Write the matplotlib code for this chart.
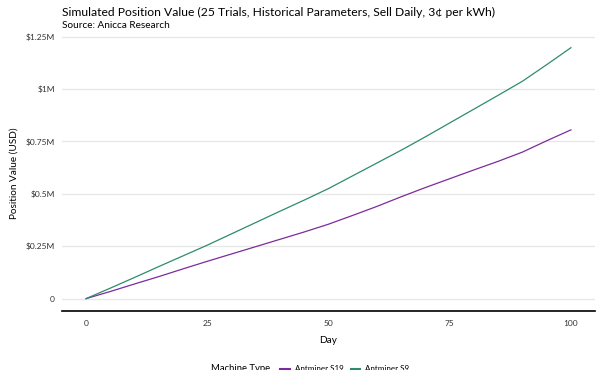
import matplotlib
matplotlib.use("Agg")
import matplotlib.pyplot as plt
from matplotlib.ticker import FuncFormatter

plt.rcParams["font.family"] = ["Lato", "DejaVu Sans"]

# Valores (milhoes de USD)
dias = [0, 5, 10, 15, 20, 25, 30, 35, 40, 45, 50, 55, 60, 65, 70, 75, 80, 85, 90, 95, 100]
s19 = [0, 0.034, 0.070, 0.105, 0.142, 0.178, 0.213, 0.248, 0.283, 0.318, 0.355,
       0.397, 0.440, 0.486, 0.530, 0.572, 0.614, 0.655, 0.699, 0.753, 0.805]
s9 = [0, 0.050, 0.101, 0.153, 0.204, 0.255, 0.309, 0.363, 0.417, 0.470, 0.525,
      0.586, 0.647, 0.708, 0.772, 0.838, 0.904, 0.970, 1.037, 1.116, 1.197]

yticks = [0, 0.25, 0.5, 0.75, 1.0, 1.25]
xticks = [0, 25, 50, 75, 100]


def fmt_dolar(v, pos):
    if v == 0:
        return "0"
    return "$" + ("%g" % v) + "M"


fig = plt.figure(figsize=(6, 3.7), dpi=100)
ax = fig.add_axes([0.103, 0.159, 0.889, 0.746])

l1, = ax.plot(dias, s19, color="#7d2b9c", lw=0.9, label="Antminer S19")
l2, = ax.plot(dias, s9, color="#2e8b6f", lw=0.9, label="Antminer S9")

ax.set_xlim(-5, 105)
ax.set_ylim(-0.0598, 1.2567)
ax.set_xticks(xticks)
ax.set_yticks(yticks)
ax.yaxis.set_major_formatter(FuncFormatter(fmt_dolar))
ax.tick_params(axis="y", length=0, labelsize=6, colors="#333333", pad=5)
ax.tick_params(axis="x", length=0, labelsize=6, colors="#333333", pad=6)
ax.grid(axis="y", color="#e6e6e6", lw=0.9)
ax.set_axisbelow(True)
for lado in ["top", "right", "left"]:
    ax.spines[lado].set_visible(False)
ax.spines["bottom"].set_color("black")
ax.spines["bottom"].set_linewidth(1.2)

ax.set_xlabel("Day", fontsize=7.2, labelpad=7)
ax.set_ylabel("Position Value (USD)", fontsize=7.2, labelpad=5)

fig.text(0.103, 0.967, "Simulated Position Value (25 Trials, Historical Parameters, Sell Daily, 3\u00a2 per kWh)",
         fontsize=8.7, va="center", ha="left")
fig.text(0.103, 0.932, "Source: Anicca Research", fontsize=7.2, va="center", ha="left")

# Legenda cortada no rodape
fig.text(0.352, 0.003, "Machine Type", fontsize=6.8, va="center", ha="left")
fig.legend(handles=[l1, l2], loc="center left", bbox_to_anchor=(0.455, 0.003), ncol=2,
           frameon=False, fontsize=5.8, handlelength=1.2, columnspacing=0.9, handletextpad=0.6)
for h in fig.legends[0].legend_handles:
    h.set_linewidth(1.5)

fig.savefig("out.png", dpi=100)
